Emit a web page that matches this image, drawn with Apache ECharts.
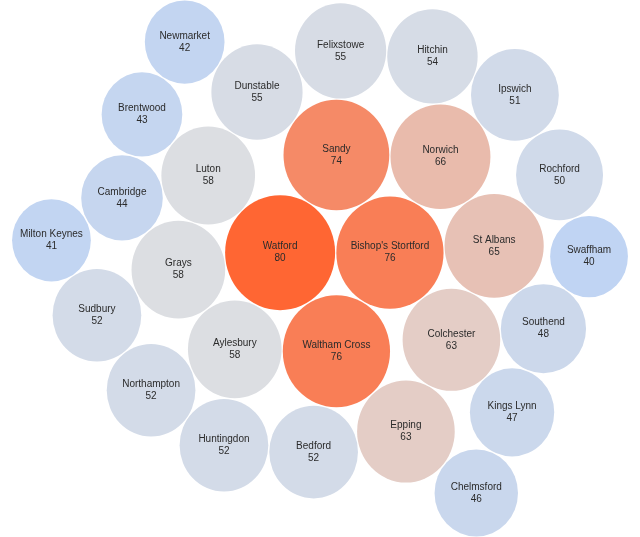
<!DOCTYPE html>
<html>
<head>
<meta charset="utf-8">
<script src="https://cdn.jsdelivr.net/npm/echarts@6/dist/echarts.min.js"></script>
<style>html,body{margin:0;padding:0;background:#fff}#c{width:640px;height:537px}</style>
</head>
<body>
<div id="c"></div>
<script>
// ---- data ----
var names = ["Watford","Bishop's Stortford","Waltham Cross","Sandy","Norwich","St Albans","Colchester","Epping","Aylesbury","Grays","Luton","Dunstable","Felixstowe","Hitchin","Bedford","Huntingdon","Northampton","Sudbury","Ipswich","Rochford","Southend","Kings Lynn","Chelmsford","Cambridge","Brentwood","Newmarket","Milton Keynes","Swaffham"];
var values = [80,76,76,74,66,65,63,63,58,58,58,55,55,54,52,52,52,52,51,50,48,47,46,44,43,42,41,40];
// packing order: each bubble touches the two named earlier bubbles (front-chain packing, clockwise side of first->second)
var contactA = [null,null,"Watford","Bishop's Stortford","Bishop's Stortford","Bishop's Stortford","Bishop's Stortford","Waltham Cross","Watford","Watford","Watford","Sandy","Sandy","Norwich","Waltham Cross","Aylesbury","Aylesbury","Grays","Norwich","St Albans","Colchester","Colchester","Epping","Luton","Luton","Dunstable","Cambridge","Southend"];
var contactB = [null,null,"Bishop's Stortford","Watford","Sandy","Norwich","St Albans","Colchester","Waltham Cross","Aylesbury","Grays","Luton","Dunstable","Felixstowe","Epping","Bedford","Huntingdon","Northampton","Hitchin","Ipswich","St Albans","Southend","Kings Lynn","Grays","Cambridge","Brentwood","Sudbury","Rochford"];
var colorStops = ['#c0d4f3','#dfdfe0','#ff6633'];

var K = 6.15;      // px of radius per sqrt(value)
var SY = 1.045;    // vertical stretch of the picture
var PAD = 0.6;

function radius(v) { return K * Math.sqrt(v); }

// ---- layout (computed from radii + contacts) ----
var pos = {};
names.forEach(function (n, i) {
  var r = radius(values[i]) + PAD;
  if (i === 0) { pos[n] = { x: 0, y: 0, r: r }; return; }
  if (i === 1) { var p0 = pos[names[0]]; pos[n] = { x: p0.x + p0.r + r, y: p0.y, r: r }; return; }
  var P = pos[contactA[i]], Q = pos[contactB[i]];
  var dx = Q.x - P.x, dy = Q.y - P.y, d = Math.sqrt(dx*dx + dy*dy);
  var ux = dx / d, uy = dy / d;
  var a = P.r + r, b = Q.r + r;
  var t = (a*a - b*b + d*d) / (2*d);
  var h = Math.sqrt(Math.max(0, a*a - t*t));
  pos[n] = { x: P.x + t*ux - h*uy, y: P.y + t*uy + h*ux, r: r };
});
var minX = Infinity, maxX = -Infinity, minY = Infinity, maxY = -Infinity;
names.forEach(function (n) {
  var c = pos[n];
  minX = Math.min(minX, c.x - c.r); maxX = Math.max(maxX, c.x + c.r);
  minY = Math.min(minY, c.y - c.r); maxY = Math.max(maxY, c.y + c.r);
});
var W = 640, H = 537 / SY;
var offX = W/2 - (minX + maxX)/2, offY = H/2 - (minY + maxY)/2;
var data = names.map(function (n, i) { return [pos[n].x + offX, pos[n].y + offY, values[i], n]; });

var chart = echarts.init(document.getElementById('c'), null, { renderer: 'canvas' });
chart.setOption({
  animation: false,
  grid: { left: 0, right: 0, top: 0, bottom: 0 },
  xAxis: { type: 'value', min: 0, max: W, show: false },
  yAxis: { type: 'value', min: 0, max: H, inverse: true, show: false },
  visualMap: { show: false, type: 'continuous', dimension: 2, min: 40, max: 80, inRange: { color: colorStops } },
  series: [{
    type: 'scatter',
    data: data,
    symbol: 'circle',
    symbolSize: function (d) { var r = radius(d[2]); return [2*r, 2*r*SY]; },
    itemStyle: { opacity: 1 },
    label: {
      show: true, position: 'inside',
      formatter: function (p) { return p.data[3] + '\n' + p.data[2]; },
      color: '#2b2b2b', fontSize: 10, lineHeight: 12,
      fontFamily: 'Liberation Sans, Arial, sans-serif'
    },
    emphasis: { disabled: true }
  }]
});
</script>
</body>
</html>
